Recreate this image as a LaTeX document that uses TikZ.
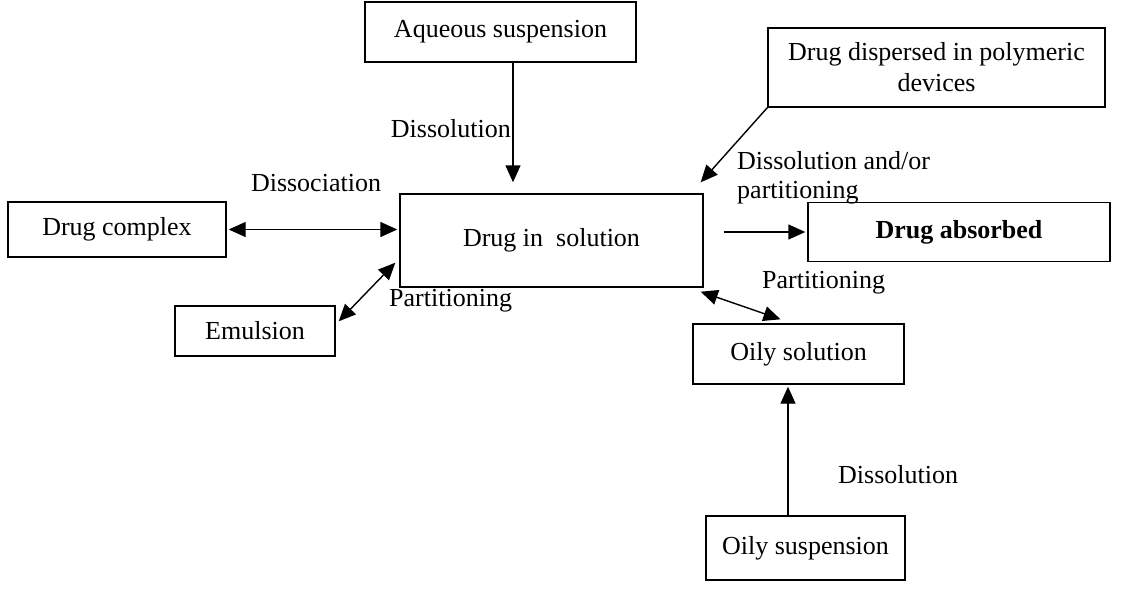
\documentclass[tikz,border=0pt]{standalone}
\usepackage{fontspec}
\setmainfont{Liberation Serif}
\usetikzlibrary{arrows.meta,calc}
\begin{document}
\begin{tikzpicture}[x=1pt,y=-1pt,
  box/.style={draw,line width=1.4pt,rectangle,inner sep=0pt,align=center,font=\fontsize{26}{31}\selectfont},
  lbl/.style={inner sep=0pt,font=\fontsize{26}{29}\selectfont,align=left},
  arr/.style={line width=1.4pt,-{Triangle[length=17pt,width=15pt]}},
  dbl/.style={line width=1.4pt,{Triangle[length=17pt,width=15pt]}-{Triangle[length=17pt,width=15pt]}}]
\useasboundingbox[fill=white] (0,0) rectangle (1129,614);
% boxes
\node[box,minimum width=271pt,minimum height=60pt] (aq) at (500.5,32) {Aqueous suspension};
\node[box,minimum width=337pt,minimum height=79pt] (dd) at (936.5,67.5) {Drug dispersed in polymeric\\devices};
\node[box,minimum width=218pt,minimum height=55pt] (dc) at (117,229.5) {Drug complex};
\node[box,minimum width=303pt,minimum height=93pt] (ds) at (551.5,240.5) {Drug in\ \ solution};
\node[box,minimum width=302pt,minimum height=59pt] (da) at (959,232) {\textbf{Drug absorbed}};
\node[box,minimum width=160pt,minimum height=50pt] (em) at (255,331) {Emulsion};
\node[box,minimum width=211pt,minimum height=60pt] (os) at (798.5,354) {Oily solution};
\node[box,minimum width=199pt,minimum height=64pt] (osus) at (805.5,548) {Oily suspension};
% connectors
\draw[arr] ([xshift=12.5pt]aq.south) -- ([xshift=-38.5pt,yshift=11pt]ds.north);
\draw[arr] (dd.south west) -- ([xshift=-3pt,yshift=11pt]ds.north east);
\draw[dbl] ([xshift=2pt]dc.east) -- ([xshift=-2pt]dc.east -| ds.west);
\draw[arr] ([xshift=20pt]ds.east |- da.west) -- ([xshift=-2pt]da.west);
\draw[dbl] ([xshift=3pt,yshift=-16pt]em.north east) -- ([xshift=-4pt,yshift=25pt]ds.south west);
\draw[dbl] ([xshift=-3pt,yshift=-4pt]ds.south east) -- ([xshift=-18pt,yshift=4pt]os.north);
\draw[arr] ([xshift=-17.5pt]osus.north) -- ([xshift=-10.5pt,yshift=-2pt]os.south);
% labels
\node[lbl,anchor=east] (l1) at (511,129) {Dissolution};
\node[lbl] (l2) at (316,183) {Dissociation};
\node[lbl,anchor=west] (l3) at (737,178) {Dissolution and/or\\partitioning};
\node[lbl,anchor=west] (l4) at (389,301) {Partitioning};
\node[lbl,anchor=west] (l5) at (762,283) {Partitioning};
\node[lbl,anchor=west] (l6) at (838,475) {Dissolution};
\end{tikzpicture}
\end{document}
